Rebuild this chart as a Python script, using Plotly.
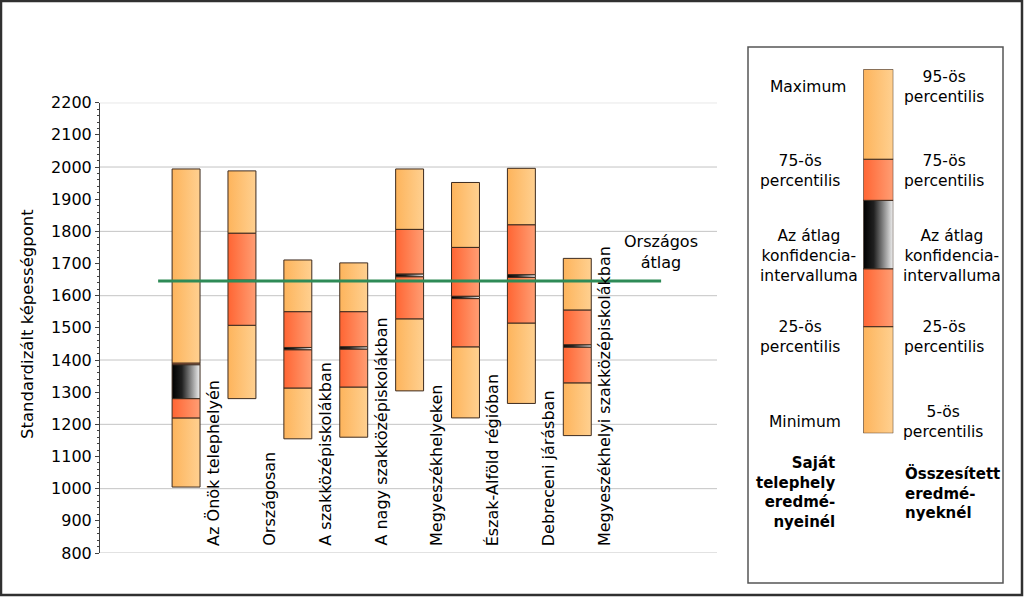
import plotly.graph_objects as go

# ---------------- data ----------------
categories = ["Az Önök telephelyén", "Országosan", "A szakközépiskolákban",
              "A nagy szakközépiskolákban", "Megyeszékhelyeken", "Észak-Alföld régióban",
              "Debreceni járásban", "Megyeszékhelyi szakközépiskolákban"]
p_low = [1005, 1280, 1155, 1160, 1304, 1220, 1265, 1165]    # minimum / 5th percentile
p25 = [1220, 1508, 1313, 1316, 1528, 1441, 1515, 1329]
ci_low = [1280, 1644, 1432, 1434, 1659, 1591, 1657, 1440]
ci_high = [1385, 1648, 1439, 1441, 1667, 1598, 1665, 1447]
p75 = [1390, 1794, 1550, 1550, 1806, 1750, 1820, 1555]
p_high = [1994, 1988, 1711, 1702, 1994, 1952, 1996, 1716]   # maximum / 95th percentile
national_mean = 1646
national_label = "Országos<br>átlag"
y_title = "Standardizált képességpont"
grid_values = [800, 1000, 1200, 1400, 1600, 1800, 2000, 2200]

# legend (schematic bar, 0..100 scale)
legend_bounds = [0, 29.3, 45.2, 64.0, 75.3, 100]
legend_left = ["Maximum", "75-ös<br>percentilis", "Az átlag<br>konfidencia-<br>intervalluma",
               "25-ös<br>percentilis", "Minimum"]
legend_right = ["95-ös<br>percentilis", "75-ös<br>percentilis", "Az átlag<br>konfidencia-<br>intervalluma",
                "25-ös<br>percentilis", "5-ös<br>percentilis"]
legend_left_title = "Saját<br>telephely<br>eredmé-<br>nyeinél"
legend_right_title = "Összesített<br>eredmé-<br>nyeknél"

# ---------------- styles ----------------
W, H = 1024, 597
FONT = "DejaVu Sans"
OUTLINE = "#3D2B1F"
GRAD = {
    "orange": [[0, "#FDB45C"], [1, "#FFD090"]],
    "red": [[0, "#FF6533"], [1, "#FF9E74"]],
    "ci": [[0, "#000000"], [0.35, "#202020"], [1, "#F2F2F2"]],
}
HALF = 0.25


def px(x):
    return x / W


def py(y):
    return 1 - y / H


fig = go.Figure()


def add_segment(xc, y0, y1, kind, xa="x", ya="y", half=HALF):
    x0, x1 = xc - half, xc + half
    fig.add_trace(go.Scatter(
        x=[x0, x1, x1, x0, x0], y=[y0, y0, y1, y1, y0],
        mode="lines", fill="toself",
        fillgradient=dict(type="horizontal", colorscale=GRAD[kind]),
        line=dict(color=OUTLINE, width=1),
        hoverinfo="skip", showlegend=False, xaxis=xa, yaxis=ya))


for i in range(len(categories)):
    add_segment(i, p_low[i], p25[i], "orange")
    add_segment(i, p75[i], p_high[i], "orange")
    add_segment(i, p25[i], ci_low[i], "red")
    add_segment(i, ci_high[i], p75[i], "red")
    add_segment(i, ci_low[i], ci_high[i], "ci")

# national mean line
n = len(categories)
fig.add_trace(go.Scatter(x=[-0.5, n + 0.5], y=[national_mean, national_mean], mode="lines",
                         line=dict(color="#2E8B57", width=3), hoverinfo="skip", showlegend=False))

# legend bar
kinds = ["orange", "red", "ci", "red", "orange"]
for k in range(5):
    add_segment(0.5, legend_bounds[k], legend_bounds[k + 1], kinds[k], xa="x2", ya="y2", half=0.5)

# gridlines
shapes = []
for g in grid_values:
    shapes.append(dict(type="line", xref="x domain", yref="y", x0=0, x1=1, y0=g, y1=g,
                       line=dict(color="#C4C4C4", width=1), layer="below"))
# outer border
shapes.append(dict(type="rect", xref="paper", yref="paper", x0=px(1), x1=px(1022), y0=py(595), y1=py(1),
                   line=dict(color="#303030", width=2.5)))
# legend box
shapes.append(dict(type="rect", xref="paper", yref="paper", x0=px(748), x1=px(1003), y0=py(583), y1=py(47),
                   line=dict(color="#555555", width=1.5)))

annotations = []
for i, c in enumerate(categories):
    annotations.append(dict(text=c, x=i + 0.48, xref="x", y=0, yref="y domain", yshift=5,
                            xanchor="center", yanchor="bottom", textangle=-90, showarrow=False,
                            font=dict(family=FONT, size=16, color="#000000")))
annotations.append(dict(text=national_label, x=n + 0.5, xref="x", y=py(252), yref="paper",
                        xanchor="center", yanchor="middle", showarrow=False, align="center",
                        font=dict(family=FONT, size=16, color="#000000")))
annotations.append(dict(text=y_title, x=px(27), xref="paper", y=py(324), yref="paper",
                        xanchor="center", yanchor="middle", textangle=-90, showarrow=False,
                        font=dict(family=FONT, size=16.5, color="#000000")))

left_x = [808, 800, 809, 800, 805]
right_x = [944, 944, 952, 944, 943]
ys = [87.5, 171.2, 255.7, 337.5, 422]
right_ys = [87.2, 171.2, 255.7, 337.5, 422]
for k in range(5):
    annotations.append(dict(text=legend_left[k], x=px(left_x[k]), y=py(ys[k]), xref="paper", yref="paper",
                            xanchor="center", yanchor="middle", align="center", showarrow=False,
                            font=dict(family=FONT, size=15.5, color="#000000")))
    annotations.append(dict(text=legend_right[k], x=px(right_x[k]), y=py(right_ys[k]), xref="paper", yref="paper",
                            xanchor="center", yanchor="middle", align="center", showarrow=False,
                            font=dict(family=FONT, size=15.5, color="#000000")))
annotations.append(dict(text="<b>" + legend_left_title + "</b>", x=px(837), y=py(493), xref="paper", yref="paper",
                        xanchor="right", yanchor="middle", align="right", showarrow=False,
                        font=dict(family=FONT, size=15, color="#000000")))
annotations.append(dict(text="<b>" + legend_right_title + "</b>", x=px(903), y=py(493), xref="paper", yref="paper",
                        xanchor="left", yanchor="middle", align="left", showarrow=False,
                        font=dict(family=FONT, size=15, color="#000000")))

fig.update_layout(
    template="none",
    width=W, height=H,
    margin=dict(l=0, r=0, t=0, b=0),
    paper_bgcolor="white", plot_bgcolor="rgba(0,0,0,0)",
    showlegend=False,
    xaxis=dict(domain=[px(100), px(717)], range=[-1.54, 9.5], showgrid=False, zeroline=False,
               showline=False, showticklabels=False, ticks="", automargin=False),
    yaxis=dict(domain=[py(553), py(102.7)], range=[800, 2200], tickmode="linear", tick0=800, dtick=100,
               ticks="outside", ticklen=4, tickcolor="#404040", showline=True, linecolor="#404040",
               linewidth=1, showgrid=False, zeroline=False, automargin=False,
               tickfont=dict(family=FONT, size=16, color="#000000"),
               minor=dict(dtick=20, ticks="outside", ticklen=2, tickcolor="#404040", showgrid=False)),
    xaxis2=dict(domain=[px(863.3), px(893.3)], range=[0, 1], anchor="y2", visible=False),
    yaxis2=dict(domain=[py(433.3), py(69.3)], range=[0, 100], anchor="x2", visible=False),
    shapes=shapes,
    annotations=annotations,
)

fig.write_html("out.html", config={"displayModeBar": False},
               post_script="document.body.style.margin='0px';document.body.style.overflow='hidden';")
